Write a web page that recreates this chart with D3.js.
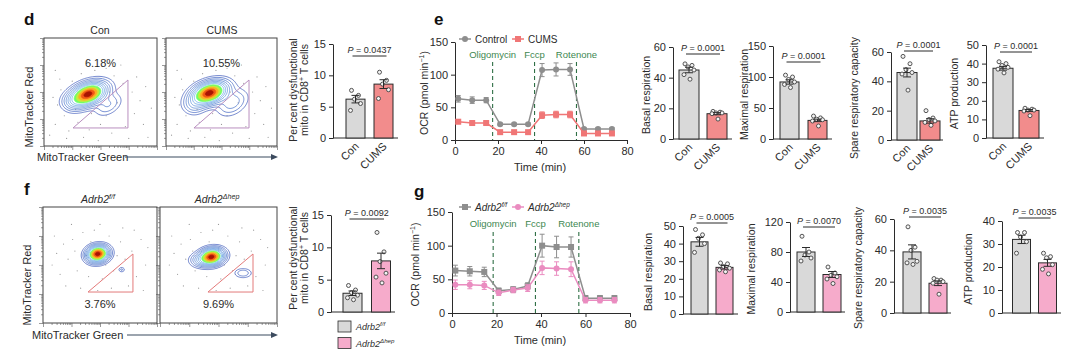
<!DOCTYPE html>
<html>
<head>
<meta charset="utf-8">
<script src="https://cdn.jsdelivr.net/npm/d3@7"></script>
<style>
  body { margin: 0; background: #fff; }
  svg { font-family: "Liberation Sans", Arial, sans-serif; }
</style>
</head>
<body>
<svg id="fig" width="1080" height="353"></svg>
<script>
// ---- data ----
var groupsCums = ['Con', 'CUMS'];
var groupsAdrb = ['f/f', 'Δhep'];

// flow plots (d, f)
var gatePctD = ['6.18%', '10.55%'];
var gatePctF = ['3.76%', '9.69%'];
// density components: [cx, cy, sigmaMajor, sigmaMinor, angleDeg, weight] in box units
var blobsD = [
  [[0.39, 0.52, 0.095, 0.055, -22, 1], [0.57, 0.62, 0.08, 0.05, -35, 0.1], [0.26, 0.6, 0.06, 0.05, 0, 0.1]],
  [[0.39, 0.51, 0.095, 0.055, -20, 1], [0.6, 0.6, 0.09, 0.06, -35, 0.13], [0.25, 0.63, 0.06, 0.05, 0, 0.1]]
];
var blobsF = [
  [[0.48, 0.405, 0.055, 0.04, -10, 1], [0.69, 0.54, 0.018, 0.014, 0, 0.07]],
  [[0.44, 0.43, 0.06, 0.04, -10, 1], [0.33, 0.46, 0.05, 0.035, 0, 0.12], [0.71, 0.57, 0.045, 0.025, 0, 0.1]]
];
var gateD = [[[0.257, 0.833], [0.743, 0.833], [0.743, 0.389]], [[0.252, 0.833], [0.748, 0.833], [0.748, 0.389]]];
var gateF = [[[0.395, 0.733], [0.789, 0.733], [0.789, 0.405]], [[0.41, 0.733], [0.795, 0.733], [0.795, 0.405]]];
var cloudD = [[0.08,0.55],[0.12,0.62],[0.15,0.48],[0.18,0.72],[0.1,0.8],[0.22,0.86],[0.3,0.78],[0.25,0.4],
  [0.33,0.33],[0.45,0.3],[0.55,0.28],[0.62,0.35],[0.7,0.42],[0.78,0.5],[0.85,0.58],[0.9,0.45],[0.8,0.7],
  [0.88,0.8],[0.72,0.82],[0.6,0.88],[0.5,0.8],[0.4,0.85],[0.35,0.92],[0.2,0.93],[0.05,0.9],[0.65,0.6],
  [0.55,0.72],[0.42,0.7],[0.28,0.66],[0.14,0.38],[0.95,0.65],[0.92,0.92],[0.75,0.93],[0.48,0.95],[0.1,0.3],
  [0.38,0.22],[0.68,0.25],[0.58,0.5],[0.3,0.5],[0.82,0.36]];
var cloudF = [[0.12,0.4],[0.18,0.32],[0.22,0.45],[0.26,0.28],[0.3,0.55],[0.35,0.22],[0.4,0.6],[0.45,0.2],
  [0.52,0.62],[0.58,0.25],[0.62,0.55],[0.68,0.3],[0.72,0.45],[0.78,0.38],[0.82,0.6],[0.86,0.28],[0.9,0.5],
  [0.15,0.58],[0.2,0.68],[0.33,0.7],[0.48,0.72],[0.6,0.7],[0.75,0.68],[0.88,0.72],[0.1,0.25],[0.5,0.15],
  [0.7,0.18],[0.25,0.15],[0.38,0.42],[0.65,0.42],[0.55,0.5],[0.8,0.2],[0.92,0.35],[0.08,0.5],[0.42,0.3],[0.28,0.38]];
var contourLevels = [0.03, 0.06, 0.1, 0.15, 0.21, 0.28, 0.36, 0.46, 0.57, 0.69, 0.82, 0.93];

// dysfunctional mito bars (d, f)
var dysMeanD = [6.2, 8.6];
var dysSemD = [0.6, 0.7];
var dysPtsD = [[7.6, 6.8, 6.2, 5.5, 4.4], [10.5, 9.2, 8.6, 7.7, 6.3]];
var dysMeanF = [2.9, 7.9];
var dysSemF = [0.35, 1.2];
var dysPtsF = [[4.1, 3.4, 3.0, 2.6, 2.2, 1.9], [12.3, 9.3, 7.8, 6.0, 5.4, 4.5]];
var dysTicks = [0, 5, 10, 15];

// OCR traces (e, g)
var ocrTime = [1.5, 8, 14.5, 21, 27.5, 34, 40.5, 47, 53.5, 60, 66.5, 73];
var ocrCon = [63, 61, 61, 24, 24, 24, 107, 108, 108, 17, 17, 17];
var ocrConErr = [5, 5, 4, 2, 2, 2, 10, 10, 9, 2, 2, 2];
var ocrCums = [28, 26, 26, 12, 12, 12, 38, 39, 39, 10, 10, 10];
var ocrCumsErr = [3, 2, 2, 2, 2, 2, 5, 5, 5, 1.5, 1.5, 1.5];
var ocrFf = [63, 62, 61, 33, 35, 40, 100, 98, 98, 22, 22, 22];
var ocrFfErr = [8, 7, 7, 4, 4, 5, 17, 16, 15, 4, 4, 4];
var ocrHep = [42, 42, 41, 30, 34, 37, 67, 66, 65, 19, 19, 19];
var ocrHepErr = [7, 6, 6, 4, 4, 5, 10, 10, 11, 4, 4, 4];
var injectE = [17.5, 37, 56.5];
var injectG = [18.5, 37.5, 57];
var injectNames = ['Oligomycin', 'Fccp', 'Rotenone'];
var ocrTicksX = [0, 20, 40, 60, 80];
var ocrTicksY = [0, 50, 100, 150];

// respiration summary bars (e, g)
var respLabels = ['Basal respiration', 'Maximal respiration', 'Spare respiratory capacity', 'ATP production'];
var respMeanE = [[45, 16.5], [92, 30], [46, 13], [37.5, 14.8]];
var respSemE = [[1.8, 0.7], [3.5, 2], [3, 1.5], [1, 0.5]];
var respPtsE = [
  [[49, 48, 47, 45, 42, 39], [18, 17.5, 17, 17, 16.5, 13]],
  [[103, 100, 96, 92, 88, 83], [37, 34, 32, 31, 29, 21]],
  [[57, 52, 48, 46, 45, 34], [20, 15, 14, 13, 12, 10]],
  [[41, 40, 39, 38, 37, 35], [16, 15.5, 15, 15, 14.5, 12]]
];
var respPE = ['0.0001', '0.0001', '0.0001', '0.0001'];
var respTicksE = [[0, 20, 40, 60], [0, 50, 100, 150], [0, 20, 40, 60], [0, 10, 20, 30, 40, 50]];
var respMeanG = [[41, 26.5], [80, 50], [39, 19], [32, 21.8]];
var respSemG = [[2.5, 1], [6, 4], [4.5, 1.5], [1.8, 1.5]];
var respPtsG = [
  [[48, 45, 43, 40, 35], [29, 28.5, 27, 26, 25, 24]],
  [[101, 80, 76, 72, 68], [60, 52, 49, 47, 44, 38]],
  [[55, 42, 40, 33, 32, 31], [22, 21, 21, 20, 19, 12]],
  [[35, 35, 33, 31, 26], [26, 24.5, 24, 21, 19, 17]]
];
var respPG = ['0.0005', '0.0070', '0.0035', '0.0035'];
var respTicksG = [[0, 10, 20, 30, 40, 50], [0, 40, 80, 120], [0, 20, 40, 60], [0, 10, 20, 30, 40]];

// ---- colours ----
var INK = '#2b2b2b';
var GREY_BAR = '#d9d9d9', RED_BAR = '#f28c8c', PINK_BAR = '#f6abcb';
var GREY_LINE = '#8e8e8e', RED_LINE = '#f07676', PINK_LINE = '#ea8cc0';
var GREEN = '#3d8750';
var jitter = [-4, 3, -1, 5, -5, 1, 0];

var svg = d3.select('#fig');

function panelLetter(t, x, y) {
  svg.append('text').attr('x', x).attr('y', y).attr('font-size', 17).attr('font-weight', 'bold')
    .attr('fill', '#111').text(t);
}

function adrb(sel, sup, size) {
  sel.append('tspan').style('font-style', 'italic').text('Adrb2');
  sel.append('tspan').attr('dy', -size * 0.4).attr('font-size', size * 0.68).style('font-style', 'italic').text(sup);
}

// contour colour: outer rings are blue lines, inner ones filled from green to red
var N_LINES = 7;
function ringColor(i) {
  if (i < N_LINES) return d3.interpolateRgb('#3552b8', '#5fa6e6')(i / (N_LINES - 1));
  return d3.interpolateTurbo(0.45 + (i - N_LINES) * 0.12);
}

// ---- flow cytometry contour plot ----
function flowPlot(box, blobs, gate, gateColor, pct, pctV, cloud) {
  var g = svg.append('g').attr('transform', 'translate(' + box.x + ',' + box.y + ')');
  var sx = d3.scaleLinear().domain([0, 1]).range([0, box.w]);
  var sy = d3.scaleLinear().domain([0, 1]).range([0, box.h]);

  g.selectAll('circle.dot').data(cloud).enter().append('circle')
    .attr('cx', function(d) { return sx(d[0]); })
    .attr('cy', function(d) { return sy(d[1]); })
    .attr('r', 0.6).attr('fill', '#9a9a9a');

  var n = 110, m = 110, values = new Array(n * m), maxV = 0;
  for (var j = 0; j < m; j++) {
    for (var i = 0; i < n; i++) {
      var u = (i + 0.5) / n, v = (j + 0.5) / m, s = 0;
      blobs.forEach(function(b) {
        var a = b[4] * Math.PI / 180, dx = u - b[0], dy = v - b[1];
        var p = dx * Math.cos(a) + dy * Math.sin(a), q = -dx * Math.sin(a) + dy * Math.cos(a);
        s += b[5] * Math.exp(-0.5 * (p * p / (b[2] * b[2]) + q * q / (b[3] * b[3])));
      });
      values[j * n + i] = s;
      if (s > maxV) maxV = s;
    }
  }
  values = values.map(function(v) { return v / maxV; });
  var contours = d3.contours().size([n, m]).thresholds(contourLevels)(values);
  var path = d3.geoPath(d3.geoTransform({
    point: function(px, py) { this.stream.point(px / n * box.w, py / m * box.h); }
  }));
  g.selectAll('path.ct').data(contours).enter().append('path')
    .attr('d', path)
    .attr('fill', function(d, i) { return i < N_LINES ? 'none' : ringColor(i); })
    .attr('stroke', function(d, i) { return ringColor(i); })
    .attr('stroke-width', 0.7);

  g.append('path')
    .attr('d', d3.line().x(function(d) { return sx(d[0]); }).y(function(d) { return sy(d[1]); })(gate) + 'Z')
    .attr('fill', 'none').attr('stroke', gateColor).attr('stroke-width', 1);

  g.append('text').attr('x', sx(0.5)).attr('y', sy(pctV)).attr('text-anchor', 'middle')
    .attr('font-size', 11).attr('fill', INK).text(pct);

  g.append('rect').attr('width', box.w).attr('height', box.h)
    .attr('fill', 'none').attr('stroke', '#444').attr('stroke-width', 1);

  var ly = d3.scaleLog().domain([10, 1e5]).range([box.h, 0]);
  var lx = d3.scaleLog().domain([10, 1e5]).range([0, box.w]);
  var isMajor = function(v) { var l = Math.log10(v); return Math.abs(l - Math.round(l)) < 1e-9; };
  var yAx = g.append('g').call(d3.axisLeft(ly).tickValues(ly.ticks()).tickFormat('').tickSize(2).tickSizeOuter(0));
  var xAx = g.append('g').attr('transform', 'translate(0,' + box.h + ')')
    .call(d3.axisBottom(lx).tickValues(lx.ticks()).tickFormat('').tickSize(2).tickSizeOuter(0));
  [yAx, xAx].forEach(function(ax) {
    ax.select('.domain').remove();
    ax.selectAll('line').attr('stroke', '#555').attr('stroke-width', 0.6);
  });
  yAx.selectAll('.tick').filter(isMajor).select('line').attr('x2', -4);
  xAx.selectAll('.tick').filter(isMajor).select('line').attr('y2', 4);
}

function flowAxisLabels(yx, yc, gx, gy, ax0, ax1) {
  svg.append('text').attr('transform', 'translate(' + yx + ',' + yc + ') rotate(-90)')
    .attr('text-anchor', 'middle').attr('font-size', 11).attr('fill', INK).text('MitoTracker Red');
  svg.append('text').attr('x', gx).attr('y', gy + 4).attr('font-size', 11).attr('fill', INK).text('MitoTracker Green');
  svg.append('line').attr('x1', ax0).attr('x2', ax1 - 5).attr('y1', gy).attr('y2', gy)
    .attr('stroke', '#3b4a5e').attr('stroke-width', 1.2);
  svg.append('path').attr('d', 'M' + ax1 + ',' + gy + 'l-7,-3l0,6z').attr('fill', '#3b4a5e');
}

// ---- bar chart with dots ----
function barChart(L, groups, mean, sem, pts, ticks, fills, pText, label, showCats) {
  var g = svg.append('g');
  var y = d3.scaleLinear().domain([0, ticks[ticks.length - 1]]).range([L.zero, L.top]);
  var x = d3.scalePoint().domain(groups).range(L.c);

  var ax = g.append('g').attr('transform', 'translate(' + L.ax + ',0)')
    .call(d3.axisLeft(y).tickValues(ticks).tickSize(4).tickPadding(3).tickSizeOuter(0));
  ax.select('.domain').attr('stroke', INK);
  ax.selectAll('line').attr('stroke', INK);
  ax.selectAll('text').attr('font-size', 11).attr('fill', INK).attr('font-family', null);
  g.append('line').attr('x1', L.ax).attr('x2', L.end).attr('y1', L.zero).attr('y2', L.zero).attr('stroke', INK);

  groups.forEach(function(gr, k) {
    var cx = x(gr);
    g.append('rect').attr('x', cx - L.bw / 2).attr('y', y(mean[k]))
      .attr('width', L.bw).attr('height', L.zero - y(mean[k]))
      .attr('fill', fills[k]).attr('stroke', INK).attr('stroke-width', 1);
    g.selectAll(null).data(pts[k]).enter().append('circle')
      .attr('cx', function(d, i) { return cx + jitter[i % jitter.length]; })
      .attr('cy', function(d) { return y(d); })
      .attr('r', 2).attr('fill', '#f4f4f4').attr('stroke', '#444').attr('stroke-width', 0.9);
    var hi = y(mean[k] + sem[k]), lo = y(mean[k] - sem[k]);
    g.append('line').attr('x1', cx).attr('x2', cx).attr('y1', hi).attr('y2', lo).attr('stroke', INK);
    g.append('line').attr('x1', cx - 4).attr('x2', cx + 4).attr('y1', hi).attr('y2', hi).attr('stroke', INK);
    g.append('line').attr('x1', cx - 4).attr('x2', cx + 4).attr('y1', lo).attr('y2', lo).attr('stroke', INK);
    if (showCats) {
      g.append('text').attr('transform', 'translate(' + (cx + 4) + ',' + (L.zero + 9) + ') rotate(-45)')
        .attr('text-anchor', 'end').attr('font-size', 11).attr('fill', INK).text(gr);
    }
  });

  var c0 = x(groups[0]) - 3, c1 = x(groups[1]) + 3;
  g.append('line').attr('x1', c0).attr('x2', c1).attr('y1', L.pLine).attr('y2', L.pLine).attr('stroke', INK);
  var pt = g.append('text').attr('x', (c0 + c1) / 2).attr('y', L.pLine - 3).attr('text-anchor', 'middle')
    .attr('font-size', 9).attr('fill', INK);
  pt.append('tspan').style('font-style', 'italic').text('P');
  pt.append('tspan').text(' = ' + pText);

  if (label) {
    g.append('text').attr('transform', 'translate(' + L.lx + ',' + ((L.zero + L.top) / 2 + 2) + ') rotate(-90)')
      .attr('text-anchor', 'middle').attr('font-size', 10.5).attr('fill', INK).text(label);
  }
}

function dysLabel(xc, yc) {
  var t = svg.append('text').attr('transform', 'translate(' + xc + ',' + yc + ') rotate(-90)')
    .attr('text-anchor', 'middle').attr('font-size', 10.5).attr('fill', INK);
  t.append('tspan').attr('x', 0).attr('dy', 0).text('Per cent dysfunctional');
  var l2 = t.append('tspan').attr('x', 0).attr('dy', 11);
  l2.text('mito in CD8');
  t.append('tspan').attr('font-size', 7).attr('dy', -4).text('+');
  t.append('tspan').attr('dy', 4).text(' T cells');
}

// ---- OCR time course ----
function ocrChart(L, series, inject) {
  var g = svg.append('g');
  var x = d3.scaleLinear().domain([0, 80]).range([L.x0, L.x1]);
  var y = d3.scaleLinear().domain([0, 150]).range([L.zero, L.top]);

  var yAx = g.append('g').attr('transform', 'translate(' + L.x0 + ',0)')
    .call(d3.axisLeft(y).tickValues(ocrTicksY).tickSize(4).tickPadding(3).tickSizeOuter(0));
  var xAx = g.append('g').attr('transform', 'translate(0,' + L.zero + ')')
    .call(d3.axisBottom(x).tickValues(ocrTicksX).tickSize(4).tickPadding(3).tickSizeOuter(0));
  [yAx, xAx].forEach(function(a) {
    a.select('.domain').attr('stroke', INK);
    a.selectAll('line').attr('stroke', INK);
    a.selectAll('text').attr('font-size', 11).attr('fill', INK).attr('font-family', null);
  });
  g.append('text').attr('x', (L.x0 + L.x1) / 2 - 1).attr('y', L.zero + 31).attr('text-anchor', 'middle')
    .attr('font-size', 11).attr('fill', INK).text('Time (min)');
  var yl = g.append('text').attr('transform', 'translate(' + L.ylx + ',' + ((L.zero + L.top) / 2 + 2) + ') rotate(-90)')
    .attr('text-anchor', 'middle').attr('font-size', 10.5).attr('fill', INK);
  yl.append('tspan').text('OCR (pmol min');
  yl.append('tspan').attr('font-size', 7).attr('dy', -4).text('−1');
  yl.append('tspan').attr('dy', 4).text(')');

  inject.forEach(function(t, i) {
    g.append('line').attr('x1', x(t)).attr('x2', x(t)).attr('y1', L.dashTop).attr('y2', L.zero)
      .attr('stroke', '#2f6f45').attr('stroke-width', 1.1).attr('stroke-dasharray', '4,3');
    g.append('text').attr('x', x(t)).attr('y', L.labY).attr('text-anchor', 'middle')
      .attr('font-size', 9.5).attr('fill', GREEN).text(injectNames[i]);
  });

  function marker(sel, shape, color, cx, cy) {
    if (shape === 'circle') {
      sel.append('circle').attr('cx', cx).attr('cy', cy).attr('r', 3).attr('fill', color);
    } else {
      sel.append('rect').attr('x', cx - 3).attr('y', cy - 3).attr('width', 6).attr('height', 6).attr('fill', color);
    }
  }

  series.forEach(function(s) {
    g.append('path').datum(s.values)
      .attr('d', d3.line().x(function(d, i) { return x(ocrTime[i]); }).y(function(d) { return y(d); }))
      .attr('fill', 'none').attr('stroke', s.color).attr('stroke-width', 1.5);
    s.values.forEach(function(v, i) {
      var cx = x(ocrTime[i]), hi = y(v + s.err[i]), lo = y(v - s.err[i]);
      g.append('line').attr('x1', cx).attr('x2', cx).attr('y1', hi).attr('y2', lo).attr('stroke', s.color);
      g.append('line').attr('x1', cx - 2.5).attr('x2', cx + 2.5).attr('y1', hi).attr('y2', hi).attr('stroke', s.color);
      g.append('line').attr('x1', cx - 2.5).attr('x2', cx + 2.5).attr('y1', lo).attr('y2', lo).attr('stroke', s.color);
      marker(g, s.shape, s.color, cx, y(v));
    });
  });

  series.forEach(function(s, k) {
    var lx = L.legX[k];
    g.append('line').attr('x1', lx - 6).attr('x2', lx + 6).attr('y1', L.legY).attr('y2', L.legY)
      .attr('stroke', s.color).attr('stroke-width', 1.5);
    marker(g, s.shape, s.color, lx, L.legY);
    var t = g.append('text').attr('x', lx + 10).attr('y', L.legY + 3.5).attr('font-size', 10).attr('fill', INK);
    if (s.sup) adrb(t, s.sup, 9.5); else t.text(s.name);
  });
}

// ================= panel d =================
panelLetter('d', 24, 25);
svg.append('text').attr('x', 100).attr('y', 34).attr('text-anchor', 'middle').attr('font-size', 10.5).attr('fill', INK).text('Con');
svg.append('text').attr('x', 222).attr('y', 34).attr('text-anchor', 'middle').attr('font-size', 10.5).attr('fill', INK).text('CUMS');
flowPlot({x: 44, y: 38, w: 113, h: 108}, blobsD[0], gateD[0], '#b98fbf', gatePctD[0], 0.27, cloudD);
flowPlot({x: 166, y: 38, w: 111, h: 108}, blobsD[1], gateD[1], '#b98fbf', gatePctD[1], 0.27, cloudD);
flowAxisLabels(33, 107, 37, 157, 125, 278);

dysLabel(297, 90);
barChart({ax: 333, zero: 138, top: 44, c: [355.5, 383.5], bw: 19, end: 398, pLine: 56},
  groupsCums, dysMeanD, dysSemD, dysPtsD, dysTicks, [GREY_BAR, RED_BAR], '0.0437', null, true);

// ================= panel e =================
panelLetter('e', 434, 25);
ocrChart({x0: 455, x1: 627, zero: 140, top: 42, ylx: 428, legY: 39, legX: [465, 518], labY: 58, dashTop: 62},
  [{name: 'Control', values: ocrCon, err: ocrConErr, color: GREY_LINE, shape: 'circle'},
   {name: 'CUMS', values: ocrCums, err: ocrCumsErr, color: RED_LINE, shape: 'square'}], injectE);

var layE = [
  {ax: 673, zero: 139, top: 47, c: [689, 717], bw: 20, end: 732, pLine: 54, lx: 650},
  {ax: 773, zero: 139, top: 46, c: [789.5, 817.5], bw: 19, end: 832, pLine: 62, lx: 748},
  {ax: 891, zero: 140, top: 52, c: [907, 930], bw: 20, end: 943, pLine: 51, lx: 858},
  {ax: 986, zero: 138, top: 45, c: [1003, 1029], bw: 20, end: 1044, pLine: 52, lx: 958}
];
layE.forEach(function(L, i) {
  barChart(L, groupsCums, respMeanE[i], respSemE[i], respPtsE[i], respTicksE[i], [GREY_BAR, RED_BAR], respPE[i], respLabels[i], true);
});

// ================= panel f =================
panelLetter('f', 24, 195);
adrb(svg.append('text').attr('x', 98).attr('y', 203).attr('text-anchor', 'middle').attr('font-size', 10.5).attr('fill', INK), 'f/f', 10.5);
adrb(svg.append('text').attr('x', 217).attr('y', 203).attr('text-anchor', 'middle').attr('font-size', 10.5).attr('fill', INK), 'Δhep', 10.5);
flowPlot({x: 43, y: 207, w: 114, h: 116}, blobsF[0], gateF[0], '#e37a7a', gatePctF[0], 0.87, cloudF);
flowPlot({x: 160, y: 207, w: 117, h: 116}, blobsF[1], gateF[1], '#e37a7a', gatePctF[1], 0.87, cloudF);
flowAxisLabels(31, 285, 32, 335, 127, 278);

dysLabel(297, 258);
barChart({ax: 331, zero: 312, top: 215, c: [352.5, 381], bw: 19, end: 395, pLine: 219},
  groupsAdrb, dysMeanF, dysSemF, dysPtsF, dysTicks, [GREY_BAR, PINK_BAR], '0.0092', null, false);
[GREY_BAR, PINK_BAR].forEach(function(c, k) {
  var yy = 321 + k * 16.5;
  svg.append('rect').attr('x', 338).attr('y', yy).attr('width', 13).attr('height', 11)
    .attr('fill', c).attr('stroke', INK).attr('stroke-width', 0.8);
  adrb(svg.append('text').attr('x', 356).attr('y', yy + 9).attr('font-size', 9).attr('fill', INK), groupsAdrb[k], 9);
});

// ================= panel g =================
panelLetter('g', 414, 197);
ocrChart({x0: 452, x1: 630, zero: 313, top: 212, ylx: 419, legY: 207, legX: [465, 518], labY: 227, dashTop: 232},
  [{sup: 'f/f', values: ocrFf, err: ocrFfErr, color: GREY_LINE, shape: 'square'},
   {sup: 'Δhep', values: ocrHep, err: ocrHepErr, color: PINK_LINE, shape: 'circle'}], injectG);

var layG = [
  {ax: 683, zero: 314, top: 226, c: [699.5, 724.5], bw: 17, end: 738, pLine: 223, lx: 652},
  {ax: 790, zero: 312, top: 222, c: [806, 832], bw: 18, end: 845, pLine: 227, lx: 755},
  {ax: 894, zero: 313, top: 219, c: [912, 938], bw: 18, end: 951, pLine: 217, lx: 862},
  {ax: 1002, zero: 313, top: 221, c: [1021.5, 1047.5], bw: 18, end: 1061, pLine: 218, lx: 972}
];
layG.forEach(function(L, i) {
  barChart(L, groupsAdrb, respMeanG[i], respSemG[i], respPtsG[i], respTicksG[i], [GREY_BAR, PINK_BAR], respPG[i], respLabels[i], false);
});
</script>
</body>
</html>
